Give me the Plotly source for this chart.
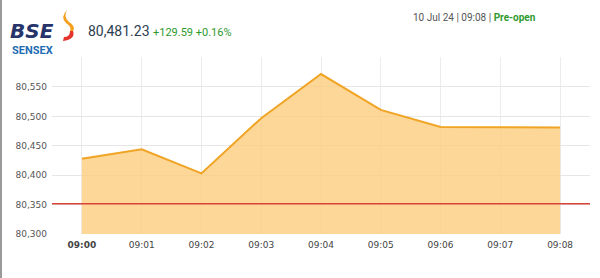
import plotly.graph_objects as go

times = ["09:00", "09:01", "09:02", "09:03", "09:04", "09:05", "09:06", "09:07", "09:08"]
values = [80428, 80444, 80403, 80497, 80572, 80511, 80482, 80481.5, 80481.23]
prev_close = 80351.64
ytick_vals = [80300, 80350, 80400, 80450, 80500, 80550]
ytick_text = ["80,300", "80,350", "80,400", "80,450", "80,500", "80,550"]
tick_text = ["<b>09:00</b>"] + times[1:]

W, H = 600, 278
L, R, T, B = 52, 10, 57, 44
PW, PH = W - L - R, H - T - B

def px(x, y):
    return ((x - L) / PW, (H - B - y) / PH)

def qpath(pts):
    s = ""
    for cmd, x, y in pts:
        a, b = px(x, y)
        s += (cmd + " " if cmd else "") + f"{a:.4f},{b:.4f} "
    return s + "Z"

fig = go.Figure()
fig.add_trace(go.Scatter(
    x=list(range(len(times))), y=values, mode="lines",
    line=dict(color="#f0a425", width=2),
    fill="tozeroy", fillcolor="rgba(253,205,125,0.8)",
    hoverinfo="skip", showlegend=False,
))

shapes = [
    dict(type="line", xref="paper", yref="y", x0=0, x1=1, y0=prev_close, y1=prev_close,
         line=dict(color="#d9443a", width=1.5)),
    dict(type="line", xref="paper", yref="paper", x0=px(1, 0)[0], x1=px(1, 0)[0],
         y0=px(0, 0)[1], y1=px(0, H)[1], line=dict(color="#9a9a9a", width=2)),
]
# flame logo
flame_top = [("M", 67, 10), ("Q", 63, 17), ("", 69, 22), ("Q", 76, 26), ("", 73, 32),
             ("L", 70, 31), ("Q", 72, 27), ("", 66, 23), ("Q", 60, 17), ("", 67, 10)]
flame_bot = [("M", 73, 31), ("Q", 76, 39), ("", 63, 41), ("L", 64, 37), ("Q", 70, 37), ("", 70, 31)]
shapes.append(dict(type="path", xref="paper", yref="paper", path=qpath(flame_top),
                   fillcolor="#f6a01e", line=dict(width=0)))
shapes.append(dict(type="path", xref="paper", yref="paper", path=qpath(flame_bot),
                   fillcolor="#e3352b", line=dict(width=0)))

def ann(x, y, text, size, color, xanchor="left", family="Roboto", bold=False):
    a, b = px(x, y)
    t = f"<b>{text}</b>" if bold else text
    return dict(xref="paper", yref="paper", x=a, y=b, text=t, showarrow=False,
                xanchor=xanchor, yanchor="middle", font=dict(size=size, color=color, family=family),
                borderpad=0)

annotations = [
    ann(9, 31, "<i>BSE</i>", 20, "#26346a", family="DejaVu Sans", bold=True),
    ann(11, 50, "SENSEX", 11, "#1f6db3", family="Roboto", bold=True),
    ann(87, 31, "80,481.23", 14, "#2c3e50"),
    ann(152, 32, "+129.59 +0.16%", 11, "#2e9a2e"),
    ann(537, 17, "10 Jul 24 | 09:08 | <b><span style='color:#2e9a2e'>Pre-open</span></b>", 10, "#555555", xanchor="right"),
]

fig.update_layout(
    width=W, height=H, margin=dict(l=L, r=R, t=T, b=B),
    plot_bgcolor="white", paper_bgcolor="white",
    shapes=shapes, annotations=annotations,
    xaxis=dict(range=[-0.5, 8.5], tickmode="array", tickvals=list(range(len(times))),
               ticktext=tick_text, showgrid=True, gridcolor="#ececec", zeroline=False,
               ticks="", showline=False, tickfont=dict(family="DejaVu Sans", size=9, color="#444"),
               ticklabelstandoff=4, fixedrange=True),
    yaxis=dict(range=[80300, 80601], tickmode="array", tickvals=ytick_vals, ticktext=ytick_text,
               showgrid=True, gridcolor="#e6e6e6", zeroline=False, ticks="", showline=False,
               tickfont=dict(family="DejaVu Sans", size=9, color="#555"),
               ticklabelstandoff=4, fixedrange=True),
    showlegend=False,
)
fig.write_html("out.html", config={"displayModeBar": False})
